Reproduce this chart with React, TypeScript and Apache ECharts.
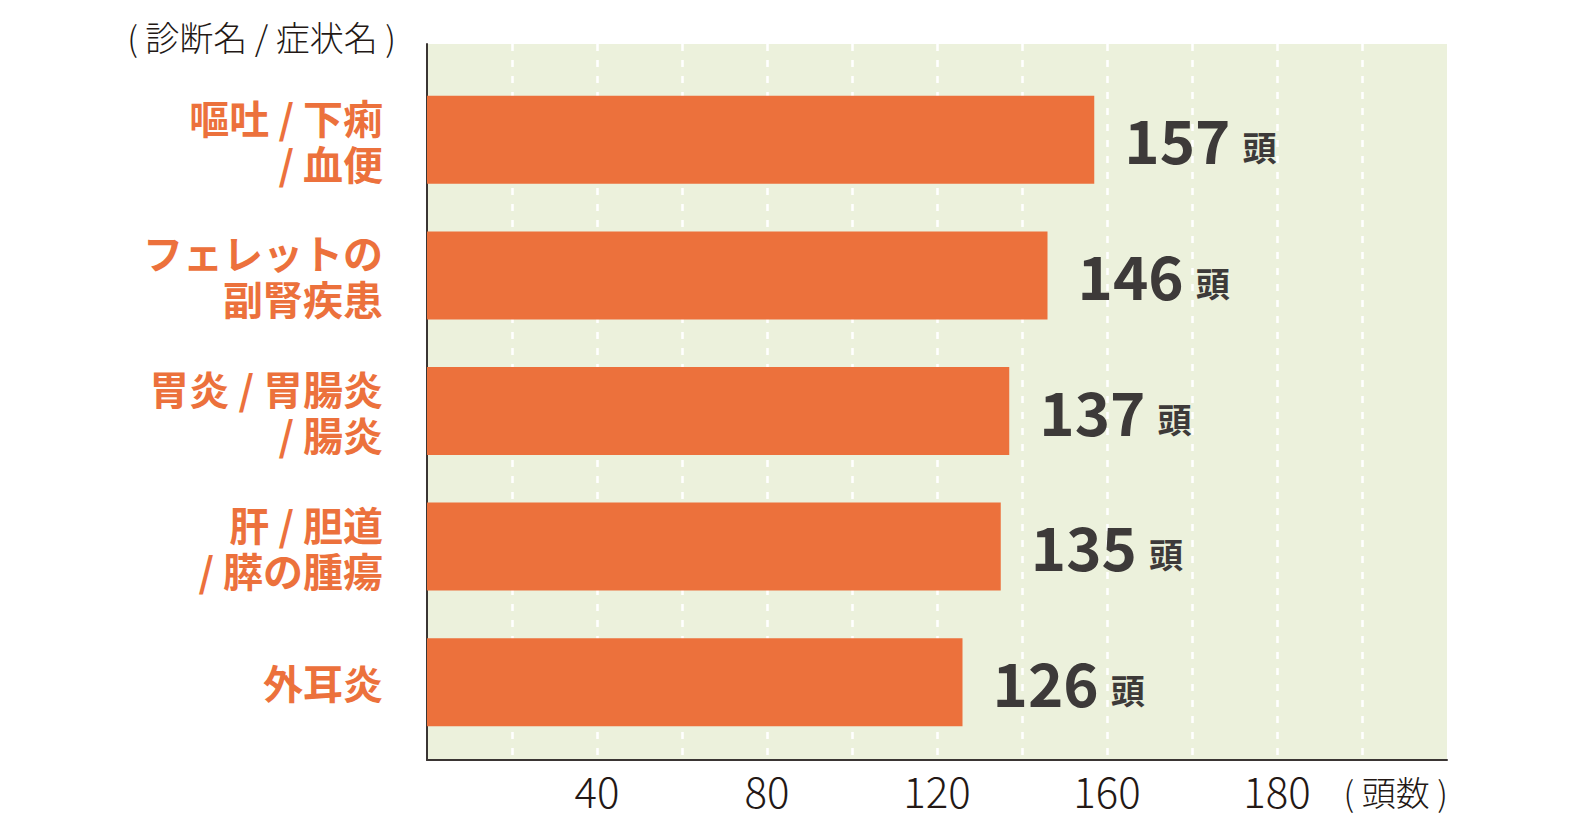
import React, { useEffect, useRef } from "react";
import * as echarts from "echarts";

const categories = [
  "嘔吐 / 下痢\n/ 血便",
  "フェレットの\n副腎疾患",
  "胃炎 / 胃腸炎\n/ 腸炎",
  "肝 / 胆道\n/ 膵の腫瘍",
  "外耳炎",
];
const values = [157, 146, 137, 135, 126];
const tickValues = [40, 80, 120, 160, 200];
const tickLabels = ["40", "80", "120", "160", "180"];
const yAxisTitle = "( 診断名 / 症状名 )";
const xAxisTitle = "( 頭数 )";
const unit = "頭";

const FONT = "'Noto Sans CJK JP', 'Noto Sans', sans-serif";
const ORANGE = "#EC713C";
const DARK = "#231815";
const AXIS = "#3a3533";
const BG = "#ECF1DC";

export default function App() {
  const ref = useRef<HTMLDivElement>(null);
  useEffect(() => {
    if (!ref.current) return;
    const chart = echarts.init(ref.current, undefined, { renderer: "svg" });
    const left = 427;
    const width = 1020;
    chart.setOption({
      animation: false,
      textStyle: { fontFamily: FONT },
      grid: [
        { left, width, top: 44, height: 716, show: true, backgroundColor: BG, borderWidth: 0 },
        { left, width, top: 72, height: 678, show: false },
      ],
      xAxis: [
        {
          gridIndex: 0,
          type: "value",
          min: 0,
          max: 240,
          interval: 20,
          axisLine: { show: true, lineStyle: { color: AXIS, width: 2 } },
          axisTick: { show: false },
          axisLabel: {
            margin: 8,
            color: DARK,
            fontSize: 42,
            fontWeight: 300,
            fontFamily: FONT,
            formatter: (v: number) => {
              const i = tickValues.indexOf(v);
              return i >= 0 ? tickLabels[i] : "";
            },
          },
          splitLine: {
            show: true,
            showMinLine: false,
            showMaxLine: false,
            lineStyle: { color: "#ffffff", width: 2.5, type: [7, 9] },
          },
        },
        {
          gridIndex: 1,
          type: "value",
          min: 0,
          max: 240,
          show: false,
        },
      ],
      yAxis: [
        {
          gridIndex: 0,
          type: "value",
          min: 0,
          max: 1,
          axisLine: { show: true, lineStyle: { color: AXIS, width: 2 } },
          axisTick: { show: false },
          axisLabel: { show: false },
          splitLine: { show: false },
        },
        {
          gridIndex: 1,
          type: "category",
          inverse: true,
          data: categories,
          axisLine: { show: false },
          axisTick: { show: false },
          axisLabel: {
            margin: 44,
            color: ORANGE,
            fontSize: 40,
            fontWeight: "bold",
            lineHeight: 46,
            align: "right",
            fontFamily: FONT,
          },
        },
      ],
      series: [
        {
          type: "bar",
          xAxisIndex: 1,
          yAxisIndex: 1,
          data: values,
          barWidth: 88,
          itemStyle: { color: ORANGE },
          label: {
            show: true,
            position: "right",
            distance: 30,
            offset: [0, -7],
            formatter: "{n|{c}}{u|" + unit + "}",
            rich: {
              n: { fontSize: 60, fontWeight: "bold", color: "#3d3a39", fontFamily: FONT, verticalAlign: "bottom", lineHeight: 70 },
              u: { fontSize: 34, fontWeight: "bold", color: "#3d3a39", fontFamily: FONT, padding: [0, 0, 4, 12], verticalAlign: "bottom", lineHeight: 40 },
            },
          },
        },
      ],
      graphic: [
        {
          type: "text",
          x: 396,
          y: 36,
          style: { text: yAxisTitle, fill: DARK, font: `300 34px ${FONT}`, align: "right", verticalAlign: "middle" },
        },
        {
          type: "text",
          x: 1448,
          y: 791,
          style: { text: xAxisTitle, fill: DARK, font: `300 34px ${FONT}`, align: "right", verticalAlign: "middle" },
        },
      ],
    });
    return () => chart.dispose();
  }, []);
  return <div ref={ref} style={{ position: "fixed", left: 0, top: 0, width: 1594, height: 832, background: "#fff" }} />;
}
